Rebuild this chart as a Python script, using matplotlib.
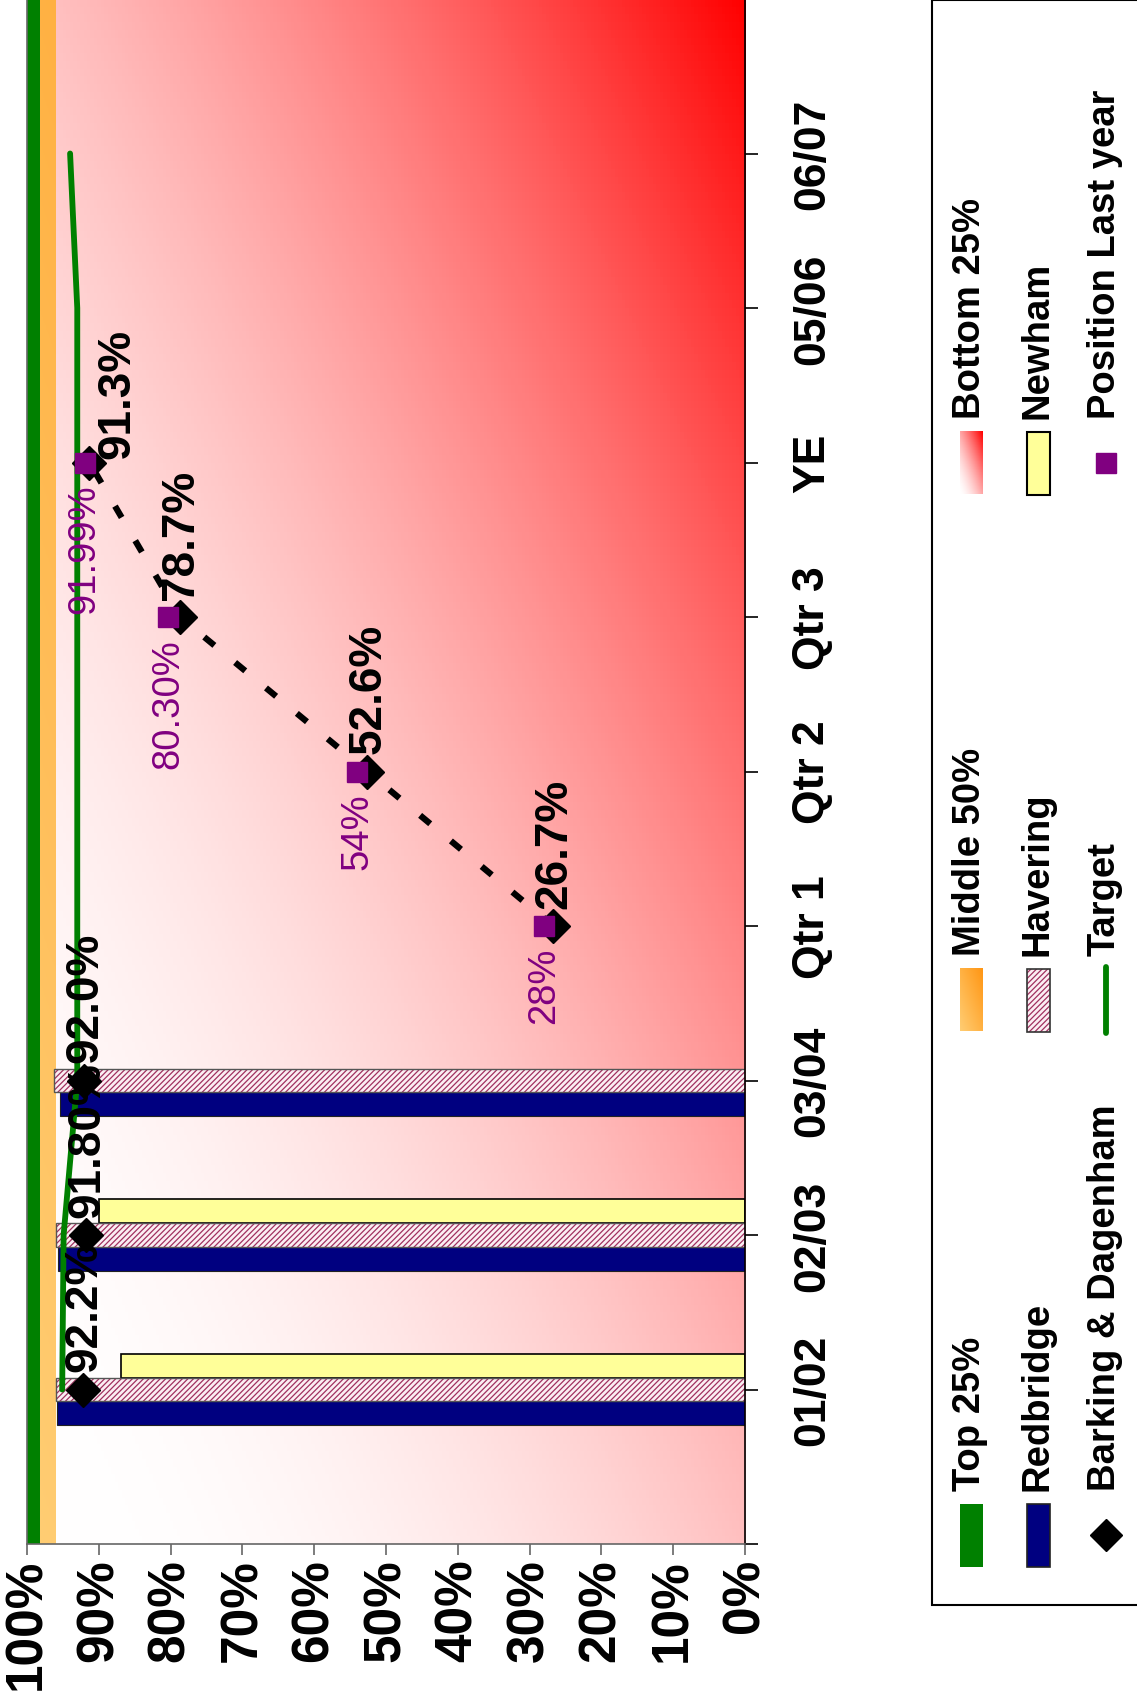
import matplotlib.pyplot as plt
import numpy as np
from matplotlib.patches import Rectangle

plt.rcParams['font.family'] = ['Liberation Sans', 'DejaVu Sans']
plt.rcParams['hatch.linewidth'] = 0.9

# category axis (drawn vertically, first category at the bottom)
categories = ['01/02', '02/03', '03/04', 'Qtr 1', 'Qtr 2', 'Qtr 3', 'YE', '05/06', '06/07']

# quartile bands, percent
top25_from = 98.2
middle50_from = 96.0

# neighbouring boroughs, first three years only
redbridge = [95.8, 95.7, 95.4]
havering = [96.0, 96.0, 96.3]
newham = [86.9, 90.0, np.nan]

barking = [92.2, 91.8, 92.0, 26.7, 52.6, 78.7, 91.3, np.nan, np.nan]
barking_labels = ['92.2%', '91.80%', '92.0%', '26.7%', '52.6%', '78.7%', '91.3%', '', '']
target = [95.1, 94.9, 93.0, 93.0, 93.0, 93.0, 93.0, 93.0, 94.0]
last_year = [np.nan, np.nan, np.nan, 28.0, 54.0, 80.3, 91.99, np.nan, np.nan]
last_year_labels = ['', '', '', '28%', '54%', '80.30%', '91.99%', '', '']

W, H = 1137, 1699
WHITE = np.array([1.0, 1.0, 1.0])
RED = np.array([1.0, 0.0, 0.0])
ORANGE_LIGHT = np.array([255, 205, 115]) / 255
ORANGE_DARK = np.array([255, 150, 20]) / 255


def gradient(c0, c1, u0=0.0, u1=1.0, power=1.0, n=200):
    # diagonal fill, light at lower-left to dark at upper-right
    uu, vv = np.meshgrid(np.linspace(u0, u1, n), np.linspace(0, 1, n))
    t = ((uu + vv) / 2) ** power
    return c0 + t[..., None] * (c1 - c0)


fig = plt.figure(figsize=(W / 100, H / 100), dpi=100)
ax = fig.add_axes([27 / W, 1 - 1545 / H, (745 - 27) / W, 1545 / H])
pos = np.arange(1, len(categories) + 1)

# background bands
ax.imshow(gradient(WHITE, RED, power=2.0), extent=(middle50_from, 0, 0, 10),
          origin='lower', aspect='auto', zorder=0)
ax.imshow(gradient(ORANGE_LIGHT, ORANGE_DARK, 0, 0.03), extent=(top25_from, middle50_from, 0, 10),
          origin='lower', aspect='auto', zorder=0)
ax.axvspan(100, top25_from, color='#008000', lw=0, zorder=0.5)

# bars
w = 0.155
nb = len(redbridge)
newham_a = np.array(newham)
ok = ~np.isnan(newham_a)
ax.barh(pos[:nb] - w, redbridge, height=w, color='#000080', edgecolor='#222222', lw=0.8, zorder=2)
ax.barh(pos[:nb], havering, height=w, color='#fbeef3', edgecolor='#a0305f', hatch='//////', lw=0, zorder=2)
ax.barh(pos[:nb], havering, height=w, fill=False, edgecolor='#555555', lw=1.0, zorder=2.1)
ax.barh(pos[:nb][ok] + w, newham_a[ok], height=w, color='#FFFF99', edgecolor='black', lw=1.2, zorder=2)

# lines and markers
ax.plot(target, pos, color='#008000', lw=4.2, solid_capstyle='round', zorder=3)
quarters = slice(3, 7)
ax.plot(np.array(barking)[quarters], pos[quarters], color='black', lw=4.5,
        ls=(0, (2.1, 4.3)), dash_capstyle='butt', zorder=3)
ax.plot(barking, pos, ls='none', marker='D', ms=17, color='black', zorder=4)
ax.plot(last_year, pos, ls='none', marker='s', ms=15, color='#800080', zorder=5)

for v, p, lab in zip(barking, pos, barking_labels):
    if lab:
        dx = 20 if lab == '91.3%' else 1
        dy = 3 if lab == '91.3%' else 13
        ax.annotate(lab, (v, p), xytext=(dx, dy), textcoords='offset points', rotation=90,
                    ha='center', va='bottom', fontsize=33, fontweight='bold', color='black', zorder=6)
for v, p, lab in zip(last_year, pos, last_year_labels):
    if lab:
        ax.annotate(lab, (v, p), xytext=(0, -15), textcoords='offset points', rotation=90,
                    ha='center', va='top', fontsize=27.5, color='#800080', zorder=6)

# axes
ax.set_xlim(100, 0)
ax.set_ylim(0, 10)
ax.set_xticks(np.arange(0, 101, 10))
ax.set_xticklabels([f'{t}%' for t in range(0, 101, 10)], rotation=90,
                   fontsize=37, fontweight='bold')
ax.yaxis.tick_right()
ax.set_yticks(np.arange(0, 11))
ax.set_yticklabels([''] + categories + [''], rotation=90, fontsize=32,
                   fontweight='bold', va='center', ha='left')
ax.tick_params(axis='x', length=8, width=1.2, color='#666666', pad=2)
ax.tick_params(axis='y', length=9, width=1.2, color='black', pad=25)
ax.spines['top'].set_visible(False)
ax.spines['left'].set_color('#666666')
ax.spines['bottom'].set_color('#666666')
ax.spines['right'].set_color('black')
for s in ('left', 'bottom', 'right'):
    ax.spines[s].set_linewidth(1.2)

# legend, drawn by hand because it is rotated
lax = fig.add_axes([0, 0, 1, 1])
lax.axis('off')
lax.add_patch(Rectangle((932, 1), 300, 1605, fill=False, ec='black', lw=1.5, clip_on=False))

col_x = [971, 1038, 1106]
row_y = [1536, 1001, 464]
sw, sh = 23, 63


def swatch(x, y, **kw):
    lax.add_patch(Rectangle((x - sw / 2, y - sh / 2), sw, sh, **kw))


def swatch_img(x, y, img):
    lax.imshow(img, extent=(x - sw / 2, x + sw / 2, y + sh / 2, y - sh / 2),
               origin='lower', aspect='auto', zorder=2)


swatch(col_x[0], row_y[0], color='#008000', lw=0)
swatch_img(col_x[0], row_y[1], gradient(ORANGE_LIGHT, ORANGE_DARK, n=40))
swatch_img(col_x[0], row_y[2], gradient(WHITE, RED, power=1.5, n=40))
swatch(col_x[1], row_y[0], fc='#000080', ec='#222222', lw=1.2)
swatch(col_x[1], row_y[1], fc='#fbeef3', ec='#a0305f', hatch='//////', lw=0)
swatch(col_x[1], row_y[1], fill=False, ec='#333333', lw=1.2)
swatch(col_x[1], row_y[2], fc='#FFFF99', ec='black', lw=1.5)
lax.plot([col_x[2]], [row_y[0]], marker='D', ms=16, color='black')
lax.plot([col_x[2], col_x[2]], [row_y[1] - 33, row_y[1] + 33], color='#008000', lw=4.2,
         solid_capstyle='round')
lax.plot([col_x[2]], [row_y[2]], marker='s', ms=14, color='#800080')

legend_labels = [['Top 25%', 'Middle 50%', 'Bottom 25%'],
                 ['Redbridge', 'Havering', 'Newham'],
                 ['Barking & Dagenham', 'Target', 'Position Last year']]
for cx, labs in zip(col_x, legend_labels):
    for ry, lab in zip(row_y, labs):
        lax.text(cx - 1, ry - sh / 2 - 13, lab, rotation=90, ha='center', va='bottom',
                 fontsize=27.5, fontweight='bold')

lax.set_xlim(0, W)
lax.set_ylim(H, 0)

fig.savefig('out.png', dpi=100)
